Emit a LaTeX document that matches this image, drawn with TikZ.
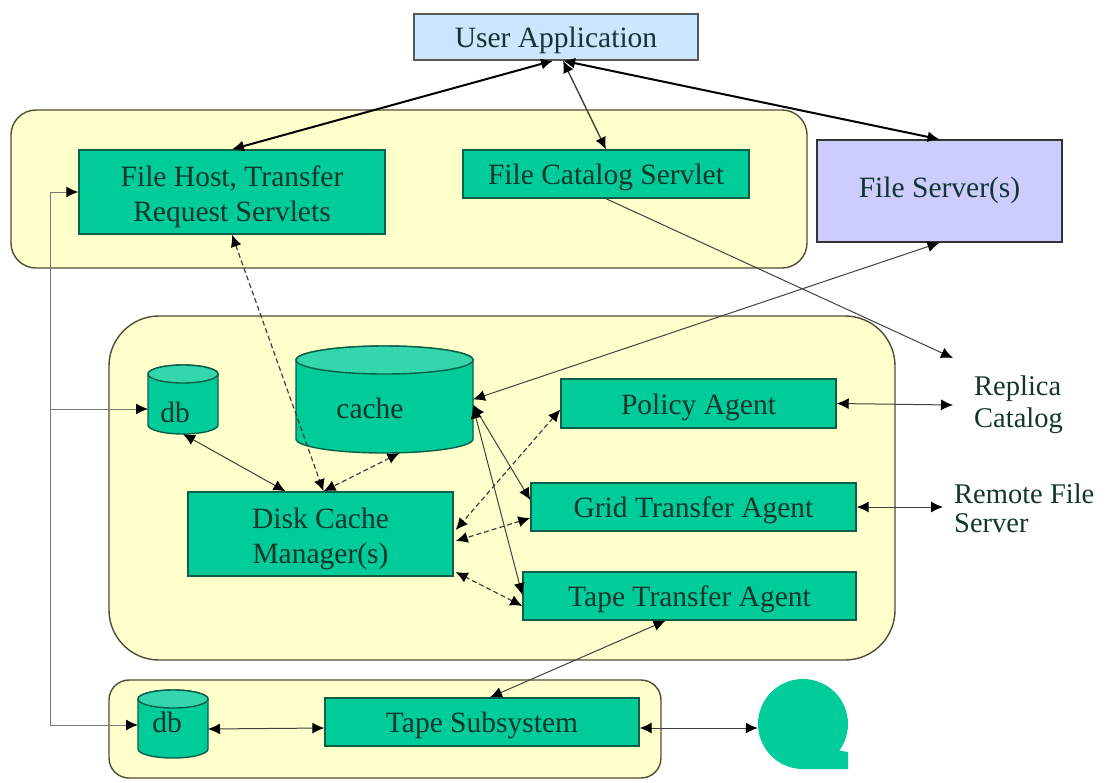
\documentclass[tikz,border=0pt]{standalone}
\usepackage{fontspec}
\setmainfont{Liberation Serif}
\usetikzlibrary{arrows.meta,shapes.geometric,calc}
\definecolor{groupFill}{HTML}{FFFFCC}
\definecolor{groupLine}{HTML}{4F4F38}
\definecolor{boxFill}{HTML}{00CC99}
\definecolor{boxLine}{HTML}{0B5F48}
\definecolor{capFill}{HTML}{33D6AD}
\definecolor{userFill}{HTML}{C9E8FF}
\definecolor{serverFill}{HTML}{CCCCFF}
\definecolor{wireGray}{HTML}{777777}
\definecolor{inkText}{HTML}{12352C}
\tikzset{
  blackTip/.tip={Latex[length=12pt,width=11pt,color=black]},
  group/.style={draw=groupLine,line width=1.4pt,fill=groupFill},
  agentBox/.style={draw=boxLine,line width=1.4pt,fill=boxFill,text=inkText,align=center,inner sep=0pt,text height=21pt,text depth=0pt},
  twoLine/.style={agentBox,text height=58pt,text depth=0pt},
  store/.style={draw=boxLine,line width=1.4pt},
  tag/.style={text=inkText,inner sep=0pt,align=left},
  link/.style={blackTip-blackTip,line width=1pt,draw=black!75},
  heavy/.style={link,line width=2pt,draw=black},
  dashlink/.style={link,line width=1.2pt,dash pattern=on 5pt off 3pt},
  wire/.style={line width=1pt,draw=wireGray}
}
% name, centre x, centre y, width, height, cap radius
\newcommand{\drum}[6]{
  \node (#1) [minimum width=#4pt,minimum height=#5pt,inner sep=0pt,outer sep=0pt] at (#2,#3) {};
  \draw [store,fill=boxFill] ([yshift=-#6pt]#1.north west) -- ([yshift=#6pt]#1.south west)
    arc[start angle=180,end angle=360,x radius=#4pt/2,y radius=#6pt]
    -- ([yshift=-#6pt]#1.north east)
    arc[start angle=0,end angle=180,x radius=#4pt/2,y radius=#6pt] -- cycle;
  \draw [store,fill=capFill] ([yshift=-#6pt]#1.north) ellipse[x radius=#4pt/2,y radius=#6pt];
}
\begin{document}
\begin{tikzpicture}[x=1pt,y=-1pt,every node/.style={font=\fontsize{29.5}{35}\selectfont}]
  \useasboundingbox (0,0) rectangle (1110,782);

  % groups
  \draw [group,rounded corners=25pt] (11,110) rectangle (807,268);
  \draw [group,rounded corners=50pt] (109,316) rectangle (895,660);
  \draw [group,rounded corners=20pt] (109,680) rectangle (661,778);

  % top row
  \node (userApp) [agentBox,fill=userFill,draw=black!65,minimum width=284pt,minimum height=46pt] at (556,37) {User Application};
  \node (fileHost) [twoLine,minimum width=306pt,minimum height=84pt] at (232,192) {File Host, Transfer\\Request Servlets};
  \node (fileCatalog) [agentBox,minimum width=286pt,minimum height=48pt] at (606,174) {File Catalog Servlet};
  \node (fileServer) [agentBox,text height=12pt,fill=serverFill,draw=black!80,minimum width=245pt,minimum height=102pt] at (939.5,191) {File Server(s)};

  % middle part
  \drum{dbDisk}{183}{399.5}{70}{69}{9}
  \node (dbDiskTag) [tag] at (175,412) {db};
  \drum{cache}{384.5}{399.5}{177}{107}{14}
  \node (cacheTag) [tag] at (370,408) {cache};
  \node (policyAgent) [agentBox,minimum width=275pt,minimum height=49pt] at (698.5,403.5) {Policy Agent};
  \node (gridAgent) [agentBox,minimum width=325pt,minimum height=48pt] at (693.5,507) {Grid Transfer Agent};
  \node (tapeAgent) [agentBox,minimum width=333pt,minimum height=48pt] at (689.5,596) {Tape Transfer Agent};
  \node (diskManager) [twoLine,minimum width=265pt,minimum height=84pt] at (320.5,534) {Disk Cache\\Manager(s)};

  % lower part
  \drum{dbTape}{173}{724}{70}{68}{9}
  \node (dbTapeTag) [tag] at (167,722) {db};
  \node (tapeSub) [agentBox,minimum width=314pt,minimum height=48pt] at (482,722) {Tape Subsystem};
  \node (tapeReel) [ellipse,fill=boxFill,inner sep=0pt,minimum width=90pt,minimum height=90pt] at (803,724) {};
  \fill [boxFill] (800,769) -- (800,745) -- (836,750) -- (848,752) -- (848,769) -- cycle;

  % outside labels
  \node (replica) [tag,anchor=west,font=\fontsize{28.5}{32}\selectfont] at (974,405) {Replica\\Catalog};
  \node (remote) [tag,anchor=west,font=\fontsize{28.5}{29}\selectfont] at (954,508) {Remote File\\Server};
  \coordinate (replicaIn) at (953,358);
  \coordinate (replicaSide) at (953,405);
  \coordinate (remoteSide) at (943,507);
  \coordinate (wireTop) at (50,192);
  \coordinate (wireMid) at (50,409);
  \coordinate (wireEnd) at (50,725);

  % solid links
  \draw [heavy] ([xshift=-3pt]userApp.south) -- (fileHost.north);
  \draw [link,line width=1.4pt] ([xshift=7pt]userApp.south) -- (fileCatalog.north);
  \draw [heavy] ([xshift=7pt]userApp.south) -- (fileServer.north);
  \draw [link,-blackTip] (fileCatalog.south) -- (replicaIn);
  \draw [link] (fileServer.south) -- (cache.east);
  \draw [link] (policyAgent.east) -- (replicaSide);
  \draw [link] (gridAgent.east) -- (remoteSide);
  \draw [link] (dbDisk.south) -- ([xshift=-35pt]diskManager.north);
  \draw [link] ([yshift=-5pt]cache.east) -- ([yshift=7pt]gridAgent.west);
  \draw [link] ([yshift=-7pt]cache.east) -- ([yshift=1pt]tapeAgent.west);
  \draw [link] ([xshift=-24pt]tapeAgent.south) -- ([xshift=8pt]tapeSub.north);
  \draw [link] ([yshift=-5pt]dbTape.east) -- ([yshift=-6pt]tapeSub.west);
  \draw [link] ([yshift=-6pt]tapeSub.east) -- ([yshift=-4pt]tapeReel.west);

  % dashed links
  \draw [dashlink] (fileHost.south) -- ([xshift=3pt]diskManager.north);
  \draw [dashlink] ([xshift=15pt]cache.south) -- ([xshift=3pt]diskManager.north);
  \draw [dashlink] ([yshift=-6pt]policyAgent.west) -- ([yshift=4pt,xshift=2pt]diskManager.east);
  \draw [dashlink] ([yshift=-11pt]gridAgent.west) -- ([yshift=-7pt,xshift=2pt]diskManager.east);
  \draw [dashlink] ([yshift=-10pt]tapeAgent.west) -- ([yshift=-38pt,xshift=2pt]diskManager.east);

  % wire on the left
  \draw [wire] (wireEnd) -- (wireTop);
  \draw [wire,-blackTip] (wireTop) -- (fileHost.west |- wireTop);
  \draw [wire,-blackTip] (wireMid) -- (dbDisk.west |- wireMid);
  \draw [wire,-blackTip] (wireEnd) -- (dbTape.west |- wireEnd);
\end{tikzpicture}
\end{document}
